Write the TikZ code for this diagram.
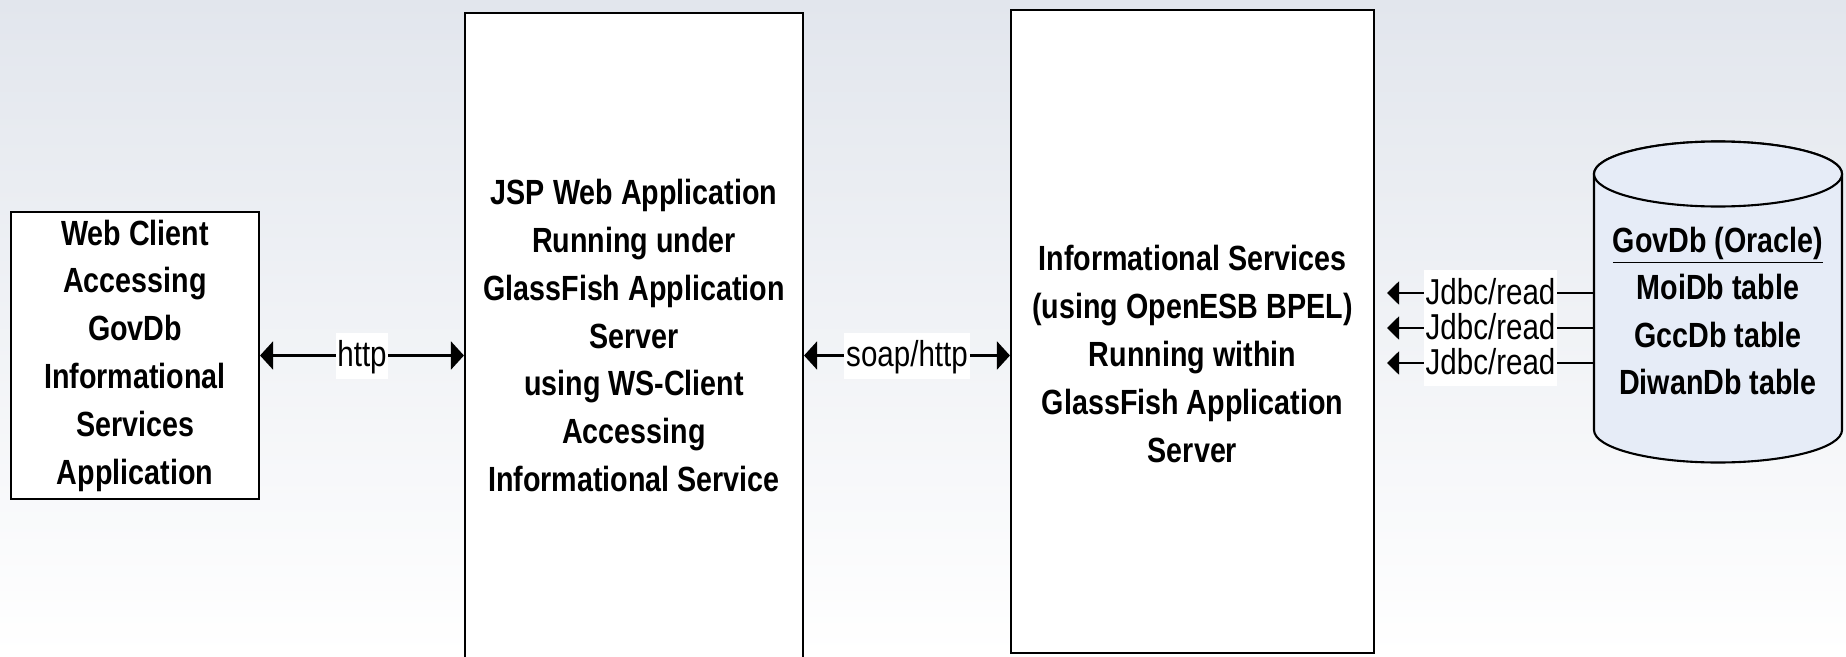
\documentclass[tikz,border=0pt]{standalone}
\usepackage{fontspec}
\setmainfont{Liberation Sans}[FakeStretch=0.82]
\usetikzlibrary{arrows.meta}
\definecolor{bgtop}{RGB}{226,230,237}
\definecolor{dbfill}{RGB}{230,236,247}
\tikzset{
  boxtext/.style={align=center, inner sep=0pt, font=\bfseries\fontsize{19.9}{27.2}\selectfont},
  box/.style={boxtext, draw=black, fill=white, line width=1.2pt},
  link/.style={line width=1.2pt, {Triangle[length=0.26cm,width=0.56cm]}-{Triangle[length=0.26cm,width=0.56cm]}},
  read/.style={line width=1.2pt, -{Triangle[length=0.24cm,width=0.46cm]}},
  linklabel/.style={fill=white, inner xsep=1pt, inner ysep=0pt, text height=0.68cm, text depth=0.24cm, font=\fontsize{20.5}{24}\selectfont},
}

\begin{document}
\begin{tikzpicture}
\useasboundingbox (0,0) rectangle (36.92,13.12);
\fill[top color=bgtop, bottom color=white] (0,0) rectangle (36.92,13.12);
% boxes
\node[box, minimum width=4.96cm, minimum height=5.74cm] (client) at (2.70,6.01) {Web Client\\Accessing\\GovDb\\Informational\\Services\\Application};
\node[box, minimum width=6.76cm, minimum height=12.9cm] (jsp) at (12.68,6.41) {JSP Web Application\\Running under\\GlassFish Application\\Server\\using WS-Client\\Accessing\\Informational Service};
\node[box, minimum width=7.26cm, minimum height=12.86cm] (info) at (23.85,6.49) {};
\node[boxtext] (infotext) at (23.85,6.04) {Informational Services\\(using OpenESB BPEL)\\Running within\\GlassFish Application\\Server};
% database
\draw[fill=dbfill, line width=1.2pt] (31.88,9.64) -- (31.88,4.52) arc[start angle=180, end angle=360, x radius=2.48, y radius=0.65] -- (36.84,9.64) arc[start angle=0, end angle=180, x radius=2.48, y radius=0.65] -- cycle;
\draw[fill=dbfill, line width=1.2pt] (34.36,9.64) ellipse [x radius=2.48, y radius=0.65];
\node[boxtext, font=\bfseries\fontsize{19.9}{26.8}\selectfont] (db) at (34.36,6.9) {\underline{GovDb (Oracle)}\\MoiDb table\\GccDb table\\DiwanDb table};
% links
\draw[link] (client.east) -- node[linklabel] {http} (client.east -| jsp.west);
\draw[link] (client.east -| jsp.east) -- node[linklabel] {soap/http} (client.east -| info.west);
\foreach \i/\y in {1/7.26,2/6.56,3/5.86}{
  \coordinate (dbw\i) at (31.88,\y);
  \coordinate (jd\i) at (27.74,\y);
}
\foreach \i in {1,2,3}
  \draw[read] (dbw\i) -- node[linklabel] {Jdbc/read} (jd\i);
\end{tikzpicture}
\end{document}
